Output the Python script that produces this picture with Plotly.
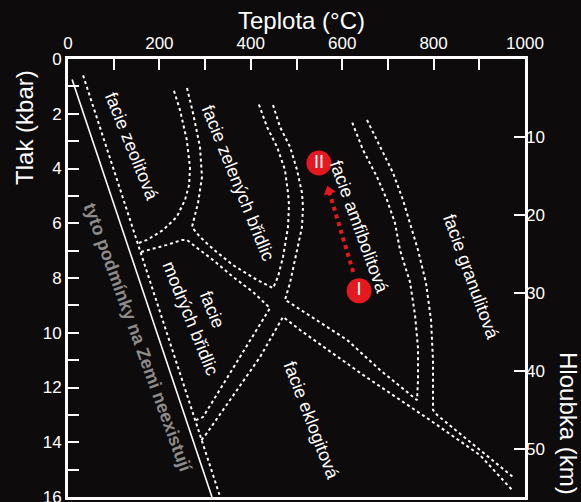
import plotly.graph_objects as go

# ---- data (temperature in °C, pressure in kbar) ----
X_TICKS = [0, 100, 200, 300, 400, 500, 600, 700, 800, 900, 1000]
X_LABELS = ["0", "", "200", "", "400", "", "600", "", "800", "", "1000"]
Y_TICKS = list(range(0, 17))
Y_LABELS = [str(v) if v % 2 == 0 else "" for v in Y_TICKS]
DEPTH_TICKS = [10, 20, 30, 40, 50]
DEPTH_MAX = 56.15

# solid line: conditions not found on Earth
SOLID_T = [9, 315]
SOLID_P = [0.75, 16]

# dotted facies boundaries
L1_T = [33, 333]
L1_P = [0.6, 16]

ZEO_T = [155, 173, 208, 238, 256, 265, 267, 260, 245, 230]
ZEO_P = [6.72, 6.61, 6.25, 5.77, 5.15, 4.60, 3.98, 2.96, 1.86, 1.06]

GREEN_T = [260.4, 273.5, 288.8, 293.2, 284.5, 271.3, 288.8, 317.3, 361.1, 413.6,
           448.6, 459.5, 470.5, 481.4, 483.6, 481.4, 474.8, 457.3, 435.4, 415.8]
GREEN_P = [1.06, 1.97, 3.21, 4.31, 5.26, 6.14, 6.50, 6.94, 7.53, 8.07,
           8.37, 7.96, 7.23, 6.14, 5.33, 4.89, 4.05, 3.21, 2.48, 1.57]

BLUE_T = [160, 186.0, 216.6, 249.5, 260.4, 282.3, 317.3, 361.1, 404.8, 442.0, 295.4, 280]
BLUE_P = [7.05, 6.94, 6.79, 6.61, 6.61, 6.90, 7.34, 7.96, 8.51, 9.10, 13.08, 13.19]

AMPH_T = [448.6, 463.9, 485.8, 501.1, 512.0, 514.2, 512.0, 501.1, 485.8, 474.8,
          485.8, 610.5, 682.7, 763.7, 765.9, 765.9, 759.3, 748.4, 726.5, 715.5,
          698.0, 676.1, 645.5, 621.4]
AMPH_P = [1.68, 2.48, 3.21, 4.05, 4.89, 5.41, 6.14, 6.98, 8.18, 8.80,
          8.91, 10.26, 11.36, 12.46, 11.73, 10.56, 9.35, 8.15, 6.98, 5.99,
          5.15, 4.31, 3.32, 2.30]

ECLO_T = [292, 304.2, 420.1, 470.5, 507.7, 645.5, 792.1, 901.5, 971.6]
ECLO_P = [13.92, 13.66, 10.89, 9.42, 9.90, 11.54, 13.19, 14.47, 15.74]

GRAN_T = [654.3, 682.7, 711.2, 733.0, 748.4, 765.9, 783.4, 794.3, 798.7, 798.7, 807.4, 973.7]
GRAN_P = [2.23, 3.21, 4.16, 5.15, 5.99, 6.98, 8.18, 9.53, 11.00, 12.82, 13.00, 15.27]

# P-T path points
POINT_T = [637, 549]
POINT_P = [8.47, 3.80]
POINT_LABELS = ["I", "II"]

ARROW_T = [624, 571]
ARROW_P = [7.78, 4.82]

# facies labels
LABEL_TEXT = ["facie zeolitová", "facie zelených břidlic", "facie<br>modrých břidlic",
              "facie amfibolitová", "facie granulitová", "facie eklogitová"]
LABEL_T = [140, 372, 293, 637, 882, 532]
LABEL_P = [3.21, 4.53, 9.32, 6.14, 7.96, 13.19]
LABEL_ANGLE = [68, 68, 68, 70, 70, 69]

NOTE_TEXT = "tyto podmínky na Zemi neexistují"
NOTE_T = 153
NOTE_P = 10.19

# ---- figure ----
BG = "#0e0b0c"
RED = "#e3191f"
FONT = "Liberation Sans, Arial, Helvetica, sans-serif"

fig = go.Figure()

fig.add_trace(go.Scatter(x=SOLID_T, y=SOLID_P, mode="lines",
                         line=dict(color="white", width=1.6), hoverinfo="skip"))

for tt, pp in [(L1_T, L1_P), (ZEO_T, ZEO_P), (GREEN_T, GREEN_P), (BLUE_T, BLUE_P),
               (AMPH_T, AMPH_P), (ECLO_T, ECLO_P), (GRAN_T, GRAN_P)]:
    fig.add_trace(go.Scatter(x=tt, y=pp, mode="lines",
                             line=dict(color="white", width=2, dash="dot"),
                             hoverinfo="skip"))

# arrow (dotted red line + head)
fig.add_trace(go.Scatter(x=ARROW_T, y=ARROW_P, mode="lines",
                         line=dict(color=RED, width=4, dash="dot"), hoverinfo="skip"))
fig.add_trace(go.Scatter(x=[ARROW_T[-1]], y=[ARROW_P[-1]], mode="markers",
                         marker=dict(symbol="triangle-up", size=11, color=RED, angle=-17),
                         hoverinfo="skip"))

# points
fig.add_trace(go.Scatter(x=POINT_T, y=POINT_P, mode="markers+text",
                         marker=dict(size=25, color=RED, line=dict(width=0)),
                         text=POINT_LABELS, textposition="middle center",
                         textfont=dict(color="white", size=18, family=FONT),
                         hoverinfo="skip"))

# dummy trace on depth axis
fig.add_trace(go.Scatter(x=[0], y=[0], yaxis="y2", mode="markers",
                         marker=dict(opacity=0), hoverinfo="skip"))

for txt, t, p, a in zip(LABEL_TEXT, LABEL_T, LABEL_P, LABEL_ANGLE):
    fig.add_annotation(x=t, y=p, xref="x", yref="y", text=txt, showarrow=False,
                       textangle=a, font=dict(color="white", size=18, family=FONT))

fig.add_annotation(x=NOTE_T, y=NOTE_P, xref="x", yref="y", text="<b>" + NOTE_TEXT + "</b>",
                   showarrow=False, textangle=70,
                   font=dict(color="#8c8c8c", size=18, family=FONT))

# axis titles
fig.add_annotation(x=0.512, y=1.0868, xref="paper", yref="paper", text="Teplota (°C)",
                   showarrow=False, font=dict(color="white", size=24, family=FONT),
                   xanchor="center", yanchor="middle")
fig.add_annotation(x=-0.0941, y=0.845, xref="paper", yref="paper", text="Tlak (kbar)",
                   showarrow=False, textangle=-90,
                   font=dict(color="white", size=24, family=FONT),
                   xanchor="center", yanchor="middle")
fig.add_annotation(x=1.094, y=0.1667, xref="paper", yref="paper", text="Hloubka (km)",
                   showarrow=False, textangle=90,
                   font=dict(color="white", size=24, family=FONT),
                   xanchor="center", yanchor="middle")

axis_common = dict(showgrid=False, zeroline=False, ticks="inside", tickcolor="white",
                   tickwidth=2, ticklen=11, ticklabeloverflow="allow",
                   tickfont=dict(color="white", size=17, family=FONT))

fig.update_layout(
    width=581, height=502,
    margin=dict(l=68, r=56, t=59, b=5),
    paper_bgcolor=BG, plot_bgcolor=BG,
    showlegend=False,
    xaxis=dict(range=[0, 1000], side="top", tickmode="array", tickvals=X_TICKS,
               ticktext=X_LABELS, showline=True, linecolor="white", linewidth=3,
               mirror=True, automargin=False, **axis_common),
    yaxis=dict(range=[16, 0], tickmode="array", tickvals=Y_TICKS, ticktext=Y_LABELS,
               showline=True, linecolor="white", linewidth=3, mirror=True,
               automargin=False, **axis_common),
    yaxis2=dict(range=[DEPTH_MAX, 0], overlaying="y", side="right", anchor="x",
                tickmode="array", tickvals=DEPTH_TICKS, automargin=False,
                ticktext=[str(v) for v in DEPTH_TICKS], showline=False, **axis_common),
)

fig.write_html("out.html", config={"displayModeBar": False},
               post_script="document.body.style.margin='0';"
                           "document.body.style.padding='0';"
                           "document.body.style.background='#0e0b0c';"
                           "document.body.style.overflow='hidden';")
